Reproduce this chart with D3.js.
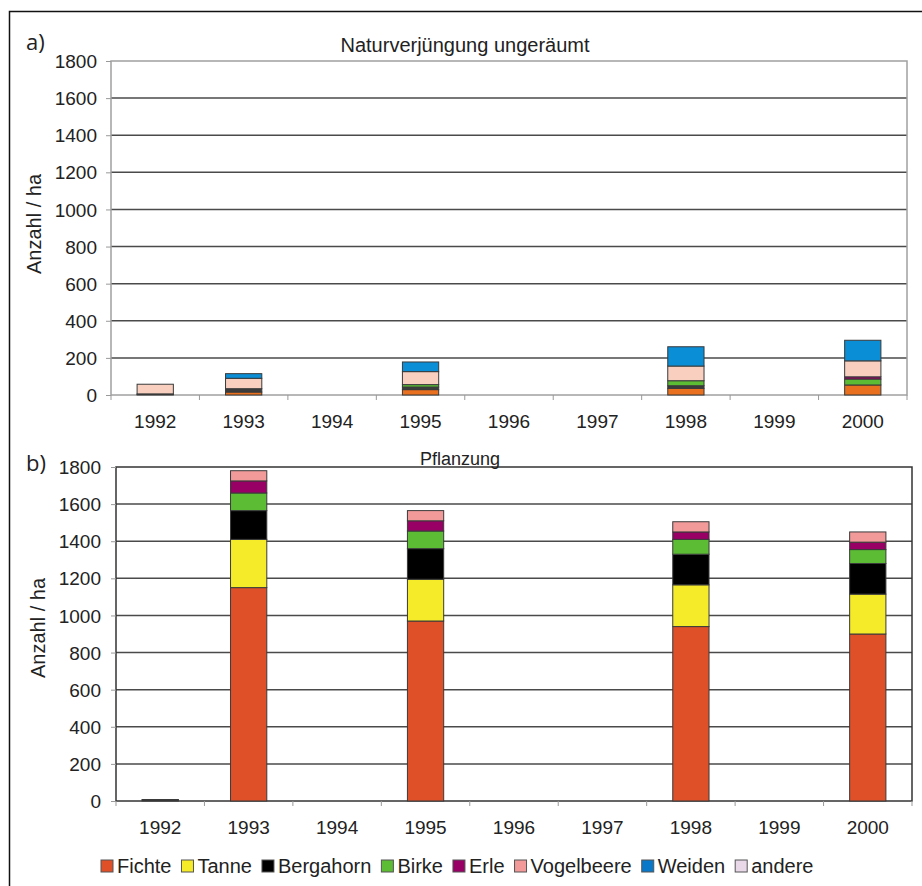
<!DOCTYPE html>
<html>
<head>
<meta charset="utf-8">
<script src="https://cdn.jsdelivr.net/npm/d3@7"></script>
<style>
  body { margin: 0; background: #fff; }
  svg { display: block; font-family: "Liberation Sans", Arial, sans-serif; }
  .grid line { stroke: #4a4a4a; stroke-width: 1.5; }
  .tick-lbl { font-size: 19px; fill: #222; }
  .bar { stroke: #3a3a3a; stroke-width: 1; }
</style>
</head>
<body>
<svg id="chart" width="922" height="886"></svg>
<script>
// ---------------- data ----------------
var years = ["1992","1993","1994","1995","1996","1997","1998","1999","2000"];
var species = ["Fichte","Tanne","Bergahorn","Birke","Erle","Vogelbeere","Weiden","andere"];
var yTicks = [0,200,400,600,800,1000,1200,1400,1600,1800];

// a) Naturverjuengung ungeraeumt
var naturFichte     = [3, 16, 0, 29, 0, 0, 36, 0, 54];
var naturTanne      = [0, 0, 0, 0, 0, 0, 0, 0, 0];
var naturBergahorn  = [3, 18, 0, 14, 0, 0, 14, 0, 0];
var naturBirke      = [0, 0, 0, 13, 0, 0, 27, 0, 32];
var naturErle       = [0, 0, 0, 0, 0, 0, 0, 0, 12];
var naturVogelbeere = [52, 56, 0, 70, 0, 0, 79, 0, 86];
var naturWeiden     = [0, 25, 0, 52, 0, 0, 104, 0, 111];
var naturAndere     = [0, 0, 0, 0, 0, 0, 0, 0, 0];

// b) Pflanzung
var pflFichte     = [5, 1150, 0, 970, 0, 0, 940, 0, 900];
var pflTanne      = [0, 260, 0, 225, 0, 0, 225, 0, 215];
var pflBergahorn  = [3, 155, 0, 165, 0, 0, 165, 0, 165];
var pflBirke      = [0, 95, 0, 95, 0, 0, 80, 0, 75];
var pflErle       = [0, 65, 0, 55, 0, 0, 40, 0, 40];
var pflVogelbeere = [0, 55, 0, 55, 0, 0, 55, 0, 55];
var pflWeiden     = [0, 0, 0, 0, 0, 0, 0, 0, 0];
var pflAndere     = [0, 0, 0, 0, 0, 0, 0, 0, 0];

var naturSeries = [naturFichte, naturTanne, naturBergahorn, naturBirke, naturErle, naturVogelbeere, naturWeiden, naturAndere];
var pflSeries   = [pflFichte, pflTanne, pflBergahorn, pflBirke, pflErle, pflVogelbeere, pflWeiden, pflAndere];

// colours (panel a is printed a bit differently)
var colorsA = ["#e8701e","#f5eb28","#3c3c3c","#5cbc34","#990066","#f9d0c0","#0a8ed6","#e8d8e8"];
var colorsB = ["#e05028","#f5eb28","#000000","#5cbc34","#990066","#f29a9a","#0a78c8","#e8d8e8"];

var svg = d3.select("#chart");

// outer frame
svg.append("rect")
    .attr("x", 9.5).attr("y", 11.5)
    .attr("width", 940).attr("height", 900)
    .attr("fill", "none").attr("stroke", "#111").attr("stroke-width", 1.5);

function toTable(series) {
  return years.map(function(y, i) {
    var row = {year: y};
    species.forEach(function(s, k) { row[s] = series[k][i]; });
    return row;
  });
}

function drawPanel(opt) {
  var x = d3.scaleBand().domain(years).range([opt.x0, opt.x1]);
  var y = d3.scaleLinear().domain([0, 1800]).range([opt.y1, opt.y0]);
  var g = svg.append("g");

  // gridlines
  g.append("g").attr("class", "grid")
    .selectAll("line").data(yTicks.slice(1, -1)).enter().append("line")
      .attr("x1", opt.x0).attr("x2", opt.x1)
      .attr("y1", d => y(d)).attr("y2", d => y(d));

  // plot border
  g.append("rect")
      .attr("x", opt.x0).attr("y", opt.y0)
      .attr("width", opt.x1 - opt.x0).attr("height", opt.y1 - opt.y0)
      .attr("fill", "none")
      .attr("stroke", opt.border).attr("stroke-width", opt.borderW);

  // y axis
  var yAxis = g.append("g")
      .attr("transform", "translate(" + opt.x0 + ",0)")
      .call(d3.axisLeft(y).tickValues(yTicks).tickFormat(d3.format("d")).tickSize(5).tickPadding(opt.tickPad));
  yAxis.select(".domain").remove();
  yAxis.selectAll(".tick line").attr("stroke", "#999");
  yAxis.attr("font-size", null).attr("font-family", null);
  yAxis.selectAll("text").attr("class", "tick-lbl").attr("dy", "0.35em");

  // x axis ticks on band edges
  g.append("g").selectAll("line").data(years.concat(["end"])).enter().append("line")
      .attr("x1", (d, i) => opt.x0 + i * x.step()).attr("x2", (d, i) => opt.x0 + i * x.step())
      .attr("y1", opt.y1).attr("y2", opt.y1 + 5)
      .attr("stroke", "#999");
  g.append("g").selectAll("text").data(years).enter().append("text")
      .attr("class", "tick-lbl")
      .attr("x", d => x(d) + x.bandwidth() / 2)
      .attr("y", opt.y1 + 33)
      .attr("text-anchor", "middle")
      .text(d => d);

  // stacked bars
  var stacked = d3.stack().keys(species)(toTable(opt.series));
  var bw = x.bandwidth() * 0.41;
  g.append("g").selectAll("g").data(stacked).enter().append("g")
      .attr("fill", (d, i) => opt.colors[i])
    .selectAll("rect").data(d => d.filter(v => v[1] - v[0] > 0)).enter().append("rect")
      .attr("class", "bar")
      .attr("x", d => x(d.data.year) + (x.bandwidth() - bw) / 2)
      .attr("width", bw)
      .attr("y", d => y(d[1]))
      .attr("height", d => y(d[0]) - y(d[1]));

  // y axis title
  g.append("text")
      .attr("transform", "translate(" + opt.ylabX + "," + opt.ylabY + ") rotate(-90)")
      .attr("text-anchor", "middle")
      .attr("font-size", 20).attr("fill", "#222")
      .text("Anzahl / ha");

  // title
  g.append("text")
      .attr("x", opt.titleX).attr("y", opt.titleY)
      .attr("text-anchor", "middle")
      .attr("font-size", opt.titleSize).attr("fill", "#222")
      .text(opt.title);

  // panel letter
  g.append("text")
      .attr("x", 26).attr("y", opt.letterY)
      .attr("font-family", "'Open Sans', 'DejaVu Sans', sans-serif")
      .attr("font-size", 22).attr("fill", "#222")
      .text(opt.letter);
}

drawPanel({
  x0: 111, x1: 907, y0: 61, y1: 395,
  series: naturSeries, colors: colorsA,
  border: "#a0a0a0", borderW: 1.5, tickPad: 9,
  ylabX: 41, ylabY: 224,
  title: "Naturverjüngung ungeräumt", titleX: 465, titleY: 52, titleSize: 20,
  letter: "a)", letterY: 50
});

drawPanel({
  x0: 116, x1: 912, y0: 467, y1: 801,
  series: pflSeries, colors: colorsB,
  border: "#333", borderW: 1.5, tickPad: 10,
  ylabX: 45, ylabY: 628,
  title: "Pflanzung", titleX: 460, titleY: 465, titleSize: 18,
  letter: "b)", letterY: 471
});

// legend
var leg = svg.append("g").attr("transform", "translate(101,873)");
var lx = 0;
species.forEach(function(s, i) {
  leg.append("rect")
      .attr("x", lx).attr("y", -13)
      .attr("width", 12).attr("height", 12)
      .attr("fill", colorsB[i]).attr("stroke", "#555").attr("stroke-width", 1);
  var t = leg.append("text")
      .attr("x", lx + 16).attr("y", 0)
      .attr("font-size", 20).attr("fill", "#222")
      .text(s);
  lx += 16 + t.node().getComputedTextLength() + 10;
});
</script>
</body>
</html>
